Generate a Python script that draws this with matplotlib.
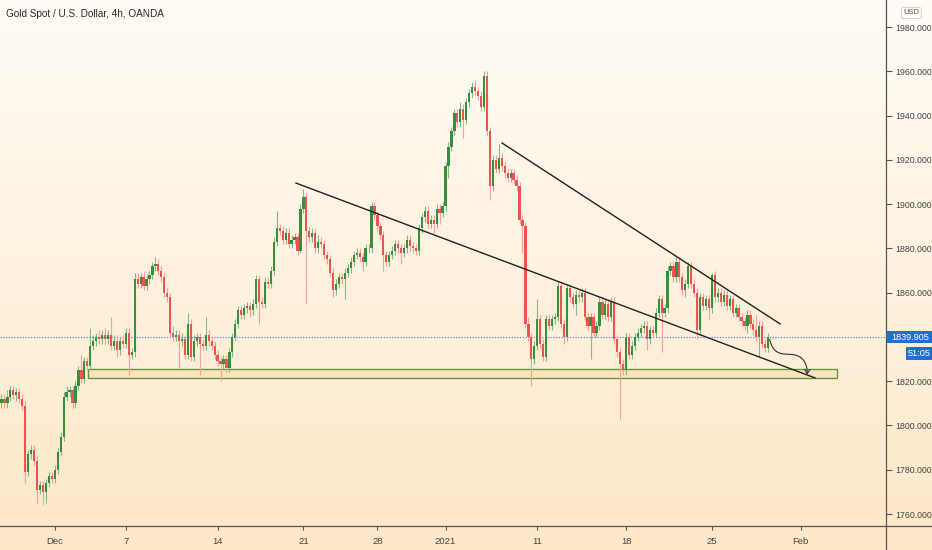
import numpy as np
import matplotlib
matplotlib.use('Agg')
import matplotlib.pyplot as plt
from matplotlib.patches import Rectangle, FancyArrowPatch
from matplotlib.path import Path
from matplotlib.lines import Line2D

plt.rcParams['font.family'] = ['Liberation Sans', 'DejaVu Sans']

# 4h candles (open = previous close)
firstOpen = 1810
closes = [
    1812, 1810, 1813, 1816, 1814, 1815, 1812, 1809, 1779, 1787,
    1789, 1784, 1771, 1773, 1770, 1774, 1777, 1776, 1780, 1788,
    1795, 1813, 1815, 1816, 1810, 1818, 1825, 1821, 1829, 1827,
    1836, 1838, 1840, 1839, 1841, 1839, 1841, 1836, 1838, 1834,
    1838, 1837, 1842, 1832, 1833, 1866, 1864, 1867, 1863, 1866,
    1868, 1872, 1873, 1870, 1867, 1860, 1858, 1842, 1840, 1841,
    1838, 1839, 1832, 1846, 1831, 1838, 1840, 1837, 1836, 1841,
    1838, 1836, 1832, 1829, 1828, 1830, 1826, 1833, 1840, 1846,
    1852, 1850, 1853, 1854, 1852, 1855, 1866, 1856, 1855, 1865,
    1864, 1870, 1883, 1889, 1888, 1884, 1887, 1882, 1884, 1885,
    1879, 1898, 1903, 1888, 1885, 1887, 1880, 1883, 1882, 1877,
    1875, 1869, 1861, 1864, 1867, 1866, 1869, 1871, 1874, 1877,
    1878, 1876, 1874, 1880, 1880, 1899, 1895, 1890, 1886, 1877,
    1874, 1877, 1879, 1882, 1880, 1878, 1880, 1884, 1881, 1880,
    1879, 1889, 1894, 1897, 1891, 1893, 1891, 1898, 1896, 1899,
    1917, 1926, 1933, 1941, 1937, 1943, 1938, 1946, 1950, 1953,
    1951, 1949, 1944, 1958, 1933, 1908, 1920, 1916, 1921, 1917,
    1914, 1912, 1914, 1911, 1908, 1893, 1890, 1846, 1840, 1830,
    1836, 1848, 1837, 1831, 1848, 1845, 1848, 1849, 1863, 1846,
    1840, 1862, 1858, 1855, 1859, 1858, 1860, 1849, 1845, 1849,
    1842, 1845, 1856, 1850, 1855, 1849, 1856, 1839, 1833, 1828,
    1825, 1840, 1832, 1836, 1840, 1842, 1844, 1845, 1839, 1843,
    1842, 1851, 1857, 1851, 1853, 1870, 1872, 1867, 1874, 1867,
    1861, 1864, 1872, 1864, 1860, 1843, 1858, 1854, 1857, 1853,
    1868, 1858, 1860, 1856, 1859, 1854, 1857, 1851, 1853, 1849,
    1847, 1845, 1850, 1846, 1843, 1840, 1845, 1837, 1835, 1839.905,
]
upperWick = [
    2, 2, 3, 2, 2, 2, 2, 2, 2, 2,
    2, 2, 2, 2, 2, 2, 2, 2, 2, 2,
    2, 2, 3, 2, 2, 2, 2, 7, 2, 2,
    8, 3, 2, 3, 2, 3, 2, 8, 3, 3,
    2, 3, 2, 2, 2, 3, 3, 2, 3, 2,
    2, 2, 3, 2, 2, 2, 2, 2, 3, 2,
    2, 3, 2, 5, 2, 3, 2, 2, 2, 8,
    2, 2, 2, 2, 2, 2, 2, 2, 2, 2,
    2, 2, 2, 2, 2, 2, 2, 2, 2, 2,
    2, 2, 2, 8, 2, 2, 2, 2, 2, 2,
    2, 2, 4, 2, 2, 2, 2, 3, 2, 2,
    2, 2, 2, 2, 2, 2, 2, 2, 2, 2,
    2, 2, 2, 2, 2, 2, 2, 2, 2, 2,
    2, 2, 2, 2, 2, 2, 2, 2, 2, 2,
    2, 2, 2, 2, 2, 2, 2, 2, 2, 2,
    2, 2, 2, 2, 2, 3, 2, 2, 2, 2,
    3, 2, 2, 2, 2, 2, 2, 2, 6, 2,
    2, 2, 2, 2, 2, 2, 2, 2, 3, 2,
    2, 9, 2, 2, 2, 2, 2, 2, 2, 2,
    2, 2, 2, 2, 2, 2, 2, 2, 2, 2,
    2, 2, 2, 2, 2, 2, 2, 2, 2, 2,
    2, 2, 2, 2, 2, 2, 2, 2, 2, 2,
    2, 2, 2, 2, 2, 2, 2, 2, 2, 2,
    2, 2, 2, 2, 2, 2, 2, 2, 2, 2,
    1, 2, 2, 2, 2, 2, 2, 2, 2, 2,
    2, 2, 2, 2, 2, 7, 2, 2, 2, 2,
]
lowerWick = [
    2, 2, 2, 2, 2, 3, 2, 2, 5, 2,
    2, 2, 6, 2, 6, 5, 2, 2, 2, 2,
    2, 2, 2, 2, 2, 2, 2, 2, 2, 2,
    2, 2, 2, 2, 2, 2, 2, 2, 2, 3,
    2, 2, 2, 9, 2, 2, 2, 2, 2, 2,
    2, 2, 2, 2, 2, 2, 2, 2, 2, 2,
    12, 2, 2, 2, 2, 2, 2, 14, 2, 2,
    2, 2, 2, 2, 8, 2, 2, 2, 2, 2,
    2, 2, 2, 2, 3, 2, 2, 10, 2, 2,
    2, 2, 2, 2, 2, 2, 2, 2, 2, 2,
    2, 1, 2, 33, 2, 2, 2, 2, 2, 2,
    2, 2, 3, 2, 2, 2, 9, 2, 2, 2,
    2, 2, 4, 2, 2, 2, 2, 2, 2, 7,
    2, 2, 2, 2, 2, 5, 2, 2, 2, 2,
    2, 2, 2, 2, 2, 2, 4, 2, 5, 2,
    2, 5, 2, 2, 2, 2, 8, 2, 2, 2,
    2, 2, 2, 2, 2, 6, 2, 2, 2, 2,
    2, 2, 2, 2, 2, 2, 12, 2, 2, 12,
    2, 2, 2, 2, 2, 2, 2, 2, 2, 2,
    3, 2, 2, 2, 5, 2, 2, 2, 2, 15,
    2, 2, 2, 2, 2, 2, 2, 2, 2, 25,
    2, 2, 2, 2, 2, 2, 2, 2, 5, 2,
    2, 2, 2, 18, 2, 2, 2, 2, 2, 2,
    2, 3, 2, 2, 2, 4, 2, 2, 2, 5,
    2, 2, 2, 2, 2, 2, 2, 2, 2, 2,
    2, 2, 3, 2, 2, 2, 9, 2, 2, 2,
]

dateTicks = [18, 42, 73, 102, 127, 150, 181, 211, 240, 270]
dateLabels = ['Dec', '7', '14', '21', '28', '2021', '11', '18', '25', 'Feb']
# 1840 is hidden behind the last-price tag
priceTicks = [1760, 1780, 1800, 1820, 1860, 1880, 1900, 1920, 1940, 1960, 1980]

title = 'Gold Spot / U.S. Dollar, 4h, OANDA'
lastPrice = 1839.905
countdown = '51:05'

# drawings: (candle index, price)
lowerTrend = [(99.5, 1909.5), (274.8, 1821.5)]
upperTrend = [(169.1, 1927.6), (263.0, 1845.9)]
zoneX = (29.2, 282.3)
zonePrice = (1821.5, 1825.5)

closes = np.array(closes, dtype=float)
opens = np.concatenate([[firstOpen], closes[:-1]])
highs = np.maximum(opens, closes) + np.array(upperWick)
lows = np.minimum(opens, closes) - np.array(lowerWick)
idx = np.arange(len(closes))
up = closes >= opens

W, H = 932, 550
fig = plt.figure(figsize=(W / 100, H / 100), dpi=100)

# background gradient
bg = fig.add_axes([0, 0, 1, 1], zorder=-10)
top = np.array([255, 252, 246]) / 255
bot = np.array([253, 231, 199]) / 255
t = np.linspace(0, 1, 256)[:, None]
grad = top * (1 - t) + bot * t
bg.imshow(grad[:, None, :], aspect='auto', extent=[0, 1, 0, 1])
bg.axis('off')

axW, axB = 886 / W, 24 / H
ax = fig.add_axes([0, axB, axW, 1 - axB])
ax.set_facecolor('none')

green, red = '#388e3c', '#ef5350'
greenWick, redWick = '#86b988', '#f3a0a2'

ax.vlines(idx[up], lows[up], highs[up], color=greenWick, linewidth=0.8, zorder=2)
ax.vlines(idx[~up], lows[~up], highs[~up], color=redWick, linewidth=0.8, zorder=2)
bodyH = np.maximum(np.abs(closes - opens), 0.4)
bodyB = np.minimum(opens, closes)
ax.bar(idx[up], bodyH[up], bottom=bodyB[up], width=0.75, color=green, linewidth=0, zorder=3)
ax.bar(idx[~up], bodyH[~up], bottom=bodyB[~up], width=0.75, color=red, linewidth=0, zorder=3)

# last price line
ax.axhline(lastPrice, color='#3d7be0', linewidth=0.8, linestyle=(0, (1, 1.5)), zorder=1)

# support zone
ax.add_patch(Rectangle((zoneX[0], zonePrice[0]), zoneX[1] - zoneX[0], zonePrice[1] - zonePrice[0],
                       facecolor='#fbe2bc', edgecolor='#4f8f2e', linewidth=1, alpha=0.9, zorder=1.5))

# trend lines
for line in (lowerTrend, upperTrend):
    ax.plot([line[0][0], line[1][0]], [line[0][1], line[1][1]], color='#222222', linewidth=1, zorder=4)

# projected path arrow
x0, y0 = idx[-1] + 0.5, closes[-1] - 1
x1, y1 = 272.2, zonePrice[1] - 2.5
verts = [(x0, y0), (x0 + 1.2, y0 - 7), (x0 + 4, y0 - 6.5), (x0 + 7, y0 - 6.8),
         (x0 + 10.5, y0 - 7), (x1, y0 - 9.5), (x1, y1)]
codes = [Path.MOVETO, Path.CURVE4, Path.CURVE4, Path.CURVE4, Path.CURVE4, Path.CURVE4, Path.CURVE4]
ax.add_patch(FancyArrowPatch(path=Path(verts, codes), arrowstyle='->,head_length=3,head_width=2',
                             color='#333333', linewidth=0.8, zorder=5))

ax.set_xlim(-0.5, 298.8)
ax.set_ylim(1754.6, 1992.2)

ax.yaxis.tick_right()
ax.set_yticks(priceTicks)
ax.set_yticklabels(['{:.3f}'.format(p) for p in priceTicks])
ax.tick_params(axis='y', direction='out', length=4, width=0.8, pad=3, labelsize=6.3,
               colors='#555555', labelcolor='#444444')
ax.set_xticks(dateTicks)
ax.set_xticklabels(dateLabels)
ax.tick_params(axis='x', direction='out', length=3, width=0.8, pad=5, labelsize=6.8,
               colors='#555555', labelcolor='#444444')
for side in ('top', 'left'):
    ax.spines[side].set_visible(False)
for side in ('right', 'bottom'):
    ax.spines[side].set_color('#555555')
    ax.spines[side].set_linewidth(0.9)

# extend axis lines into the corner
fig.add_artist(Line2D([axW, 1], [axB, axB], color='#555555', linewidth=0.9))
fig.add_artist(Line2D([axW, axW], [0, axB], color='#555555', linewidth=0.9))

# price and countdown tags on the price scale
tagT = ax.get_yaxis_transform()
tagBlue = '#1f6fd6'
ax.add_patch(Rectangle((1.001, lastPrice - 2.5), 0.051, 5.1, transform=tagT,
                       facecolor=tagBlue, edgecolor='none', clip_on=False, zorder=6))
ax.text(1.027, lastPrice, '{:.3f}'.format(lastPrice), transform=tagT, ha='center', va='center',
        fontsize=6.6, color='white', zorder=7, clip_on=False)
ax.add_patch(Rectangle((1.0226, lastPrice - 10.3), 0.0294, 5.9, transform=tagT,
                       facecolor=tagBlue, edgecolor='none', clip_on=False, zorder=6))
ax.text(1.0373, lastPrice - 7.35, countdown, transform=tagT, ha='center', va='center',
        fontsize=6.6, color='white', zorder=7, clip_on=False)

fig.text(911.5 / W, 1 - 13 / H, 'USD', ha='center', va='center', fontsize=5.5, color='#555555',
         bbox=dict(boxstyle='round,pad=0.25', facecolor='#fffdf9', edgecolor='#cccccc', linewidth=0.6))
fig.text(6 / W, 1 - 14 / H, title, ha='left', va='center', fontsize=7.2, color='#2a2a2a')

fig.savefig('out.png', dpi=100)
